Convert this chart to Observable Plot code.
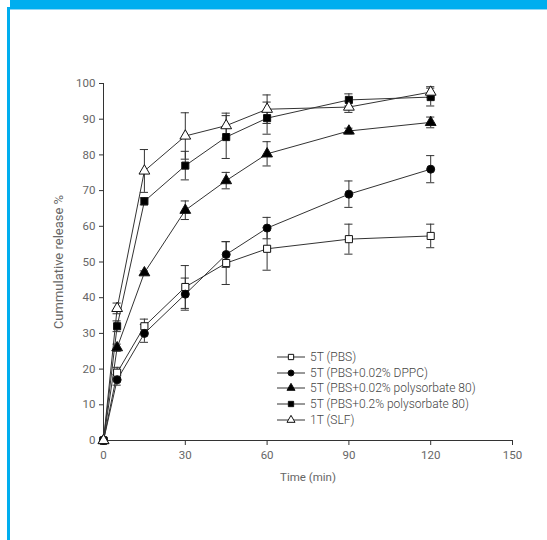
<!DOCTYPE html>
<html>
<head>
<meta charset="utf-8">
<script src="https://cdn.jsdelivr.net/npm/d3@7"></script>
<script src="https://cdn.jsdelivr.net/npm/@observablehq/plot@0.6"></script>
<style>
  html, body { margin: 0; padding: 0; background: #fff; }
  #page { position: relative; width: 547px; height: 540px; overflow: hidden; background: #fff; }
  #topbar { position: absolute; left: 10px; top: 0; width: 537px; height: 9px; background: #00AEEF; border-bottom: 1px solid #8fd6f5; }
  #leftbar { position: absolute; left: 7px; top: 7px; width: 3px; height: 533px; background: #00AEEF; }
  #chart { position: absolute; left: 0; top: 0; }
  #legend { position: absolute; left: 277px; top: 349px; font-family: Roboto, sans-serif; font-weight: 300; font-size: 12px; color: #444; }
  .row { height: 15.7px; display: flex; align-items: center; white-space: nowrap; }
  .row svg { display: block; margin-right: 3px; }
  #chart svg text { fill: #666; stroke: none; }
</style>
</head>
<body>
<div id="page">
  <div id="topbar"></div>
  <div id="leftbar"></div>
  <div id="chart"></div>
  <div id="legend"></div>
</div>
<script>
const times = [0, 5, 15, 30, 45, 60, 90, 120];
const seriesNames = ["5T (PBS)", "5T (PBS+0.02% DPPC)", "5T (PBS+0.02% polysorbate 80)", "5T (PBS+0.2% polysorbate 80)", "1T (SLF)"];
const pbs      = [0, 19, 32, 43, 49.7, 53.7, 56.4, 57.3];
const pbsErr   = [0, 1.5, 2, 6, 6, 6, 4.2, 3.3];
const dppc     = [0, 17, 30, 41, 52.1, 59.5, 69, 76];
const dppcErr  = [0, 1.5, 2.5, 4.5, 3.6, 3, 3.7, 3.8];
const ps002    = [0, 26, 47, 64.5, 72.8, 80.3, 86.7, 89.1];
const ps002Err = [0, 1, 0.5, 2.6, 2.3, 3.4, 0.8, 1.5];
const ps02     = [0, 32, 67, 77, 85, 90.3, 95.4, 96.2];
const ps02Err  = [0, 1.5, 1, 4, 6, 4.5, 1.7, 2.5];
const slf      = [0, 37, 75.5, 85.3, 88.2, 92.8, 93.4, 97.6];
const slfErr   = [0, 1.5, 6, 6.5, 3.5, 4, 1.5, 1.5];
const xTicks = [0, 30, 60, 90, 120, 150];
const yTicks = [0, 10, 20, 30, 40, 50, 60, 70, 80, 90, 100];

const seriesValues = [pbs, dppc, ps002, ps02, slf];
const seriesErrors = [pbsErr, dppcErr, ps002Err, ps02Err, slfErr];
const symbols = ["square", "circle", "triangle", "square", "triangle"];
const fills = ["white", "black", "black", "black", "white"];

const rows = seriesNames.flatMap((name, i) =>
  times.map((t, j) => ({name, t, v: seriesValues[i][j], e: seriesErrors[i][j], fill: fills[i]})));
const errRows = rows.filter(d => d.e > 0);

const capHalf = 1.5; // minutes
const chart = Plot.plot({
  width: 547,
  height: 540,
  marginLeft: 103,
  marginRight: 35,
  marginTop: 83,
  marginBottom: 100,
  style: {fontFamily: "Roboto, sans-serif", fontSize: "11.5px", color: "#666", background: "transparent", overflow: "visible"},
  x: {domain: [0, 150]},
  y: {domain: [0, 100]},
  color: {type: "identity"},
  symbol: {domain: seriesNames, range: symbols},
  marks: [
    Plot.axisX({ticks: xTicks, tickSize: 5, tickPadding: 5, stroke: "#333", label: null}),
    Plot.axisX({ticks: [], label: "Time (min)", labelAnchor: "center", labelArrow: "none", labelOffset: 40, fontSize: 11.5}),
    Plot.axisY({ticks: yTicks, tickSize: 4, tickPadding: 4, stroke: "#333", label: null}),
    Plot.axisY({ticks: [], label: "Cummulative release %", labelAnchor: "center", labelArrow: "none", labelOffset: 50, fontSize: 13}),
    Plot.ruleX([0], {stroke: "#333", y1: 0, y2: 100}),
    Plot.ruleY([0], {stroke: "#333", x1: 0, x2: 150}),
    Plot.ruleX(errRows, {x: "t", y1: d => d.v - d.e, y2: d => d.v + d.e, stroke: "#333", strokeWidth: 1}),
    Plot.ruleY(errRows, {y: d => d.v + d.e, x1: d => d.t - capHalf, x2: d => d.t + capHalf, stroke: "#333", strokeWidth: 1}),
    Plot.ruleY(errRows, {y: d => d.v - d.e, x1: d => d.t - capHalf, x2: d => d.t + capHalf, stroke: "#333", strokeWidth: 1}),
    Plot.line(rows, {x: "t", y: "v", z: "name", stroke: "#333", strokeWidth: 1}),
    Plot.dot(rows, {x: "t", y: "v", symbol: "name", fill: "fill", stroke: "#111", strokeWidth: 1, r: 4})
  ]
});
document.getElementById("chart").appendChild(chart);

// legend
const legend = document.getElementById("legend");
seriesNames.forEach((name, i) => {
  const row = document.createElement("div");
  row.className = "row";
  const svg = d3.create("svg").attr("width", 30).attr("height", 12);
  svg.append("line").attr("x1", 0).attr("x2", 28).attr("y1", 6).attr("y2", 6).attr("stroke", "#333");
  const sym = {square: d3.symbolSquare, circle: d3.symbolCircle, triangle: d3.symbolTriangle}[symbols[i]];
  svg.append("path").attr("d", d3.symbol(sym, 28)()).attr("transform", "translate(14,6)")
    .attr("fill", fills[i]).attr("stroke", "#111");
  row.appendChild(svg.node());
  const span = document.createElement("span");
  span.textContent = name;
  row.appendChild(span);
  legend.appendChild(row);
});
</script>
</body>
</html>
